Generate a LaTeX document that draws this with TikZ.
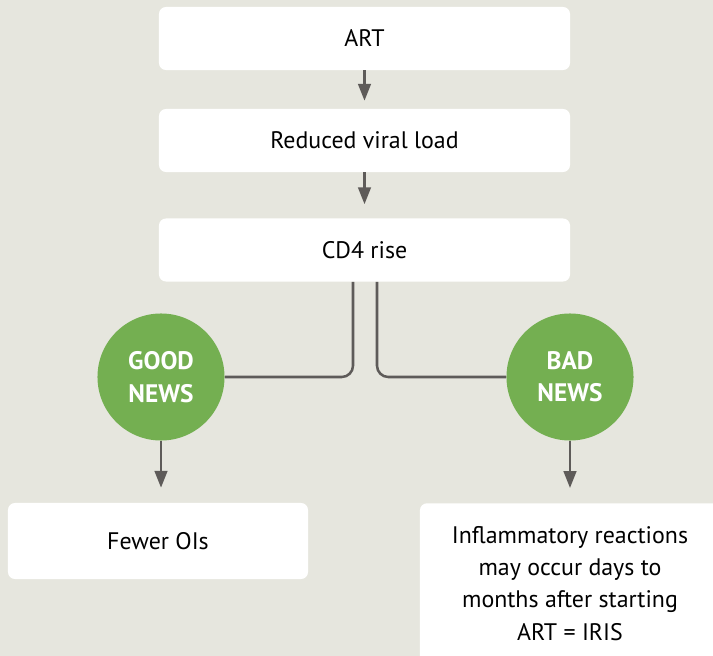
\documentclass[tikz,border=0pt]{standalone}
\usepackage{fontspec}
\setmainfont{PT Sans}
\usetikzlibrary{arrows.meta, positioning}
\definecolor{flowbg}{HTML}{E6E6DE}
\definecolor{flowgreen}{HTML}{74AF51}
\definecolor{flowline}{HTML}{5E5B59}

\begin{document}
\begin{tikzpicture}[x=0.025cm, y=-0.025cm,
    stepbox/.style={rectangle, rounded corners=5pt, fill=white, minimum width=#1, minimum height=1.575cm, align=center, font=\fontsize{17}{23}\selectfont},
    newsdot/.style={circle, fill=flowgreen, minimum size=3.175cm, inner sep=0pt, align=center, text=white, font=\fontsize{18}{23}\selectfont\bfseries},
    link/.style={draw=flowline, line width=1.8pt},
    flow/.style={link, -{Triangle[length=12pt, width=9pt]}},
]

% background
\fill[flowbg] (0,0) rectangle (713,656);
\clip (0,0) rectangle (713,656);

% main chain
\node[stepbox=10.275cm] (art) at (364.5,38.5) {ART};
\node[stepbox=10.275cm] (viral) at (364.5,140.5) {Reduced viral load};
\node[stepbox=10.275cm] (cd4) at (364.5,250) {CD4 rise};
\draw[flow, shorten >=0.2cm] (art) -- (viral);
\draw[flow, shorten >=0.35cm] (viral) -- (cd4);

% good and bad news
\node[newsdot] (good) at (161,377) {GOOD\\NEWS};
\node[newsdot] (bad) at (570,377) {BAD\\NEWS};
\draw[link, rounded corners=8pt] ([xshift=-0.2875cm]cd4.south) |- (good.east);
\draw[link, rounded corners=8pt] ([xshift=0.3125cm]cd4.south) |- (bad.west);

% outcomes
\node[stepbox=7.5cm, minimum height=1.9cm] (fewer) at (158,541) {Fewer OIs};
\node[stepbox=7.5cm, minimum height=4cm, anchor=north] (iris) at (570,503)
    {Inflammatory reactions\\may occur days to\\months after starting\\ART = IRIS};
\draw[flow, shorten >=0.375cm] (good) -- (good |- fewer.north);
\draw[flow, shorten >=0.375cm] (bad) -- (iris);

\end{tikzpicture}
\end{document}
